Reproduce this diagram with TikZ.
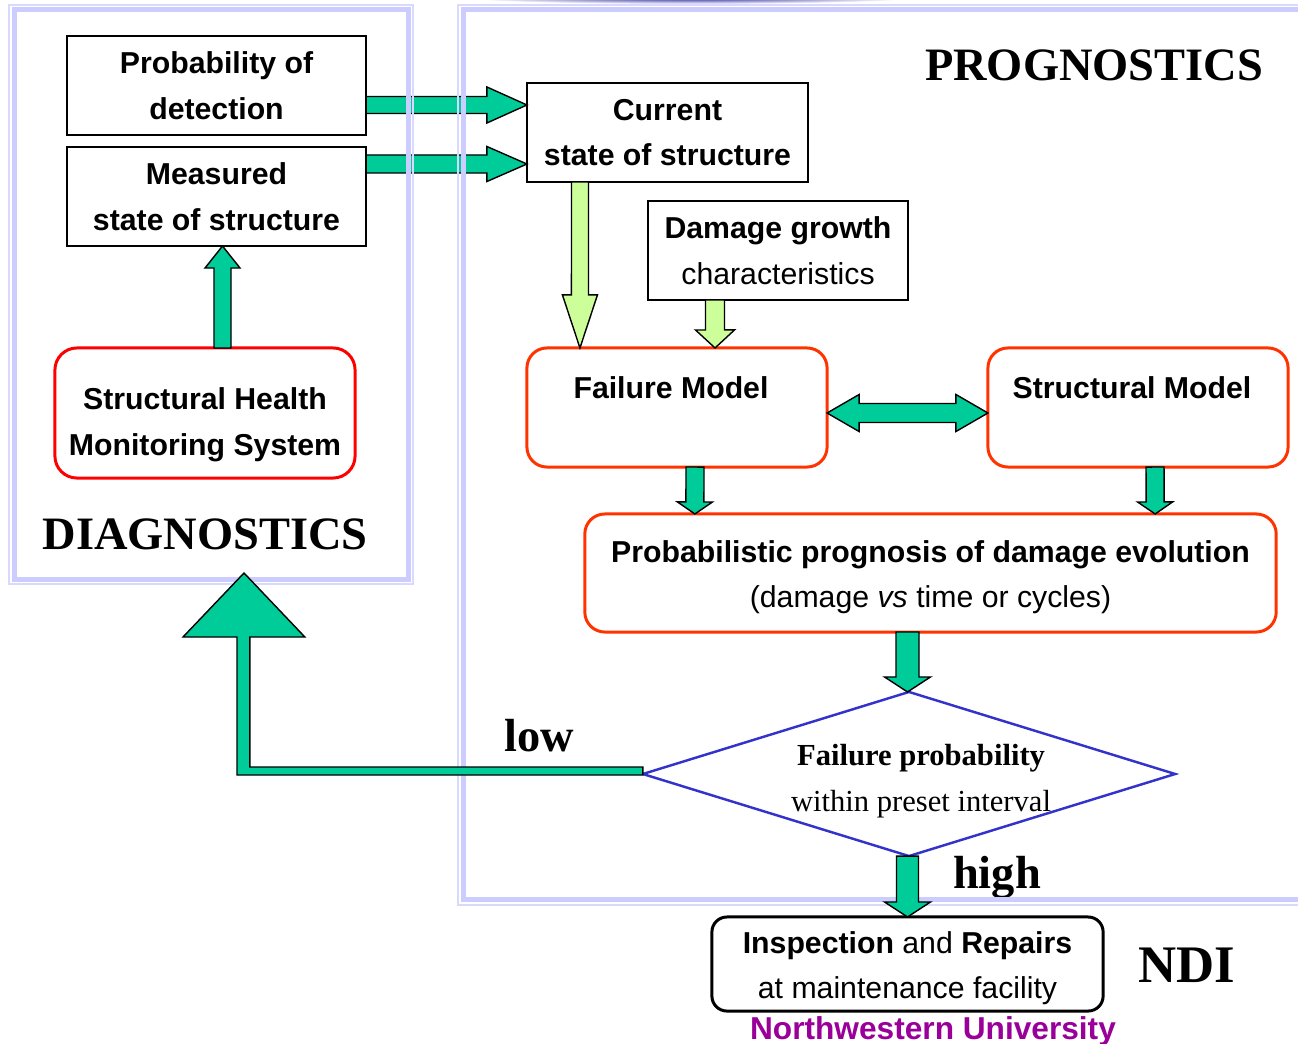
\documentclass[tikz,border=0pt]{standalone}
\usepackage{fontspec}
\setmainfont{Liberation Sans}
\newfontfamily\timesfont{Liberation Serif}
\usetikzlibrary{calc,shapes.geometric}

\definecolor{arrowgreen}{HTML}{00CC99}
\definecolor{lightgreen}{HTML}{CCFF99}
\definecolor{framelav}{HTML}{CCCCFF}
\definecolor{shmred}{HTML}{FF0000}
\definecolor{modelred}{HTML}{FF3300}
\definecolor{decisionblue}{HTML}{3333CC}
\definecolor{nwpurple}{HTML}{990099}

% block arrow: [style]{from}{to}{half shaft}{half head}{head length}
\newcommand{\blockarrow}[6][]{%
	\coordinate (ba-s) at #2;
	\coordinate (ba-e) at #3;
	\coordinate (ba-b) at ($(ba-e)!#6!(ba-s)$);
	\draw[blockarrow,#1] ($(ba-s)!#4!90:(ba-e)$) -- ($(ba-b)!#4!90:(ba-e)$) -- ($(ba-b)!#5!90:(ba-e)$) -- (ba-e) -- ($(ba-b)!#5!-90:(ba-e)$) -- ($(ba-b)!#4!-90:(ba-e)$) -- ($(ba-s)!#4!-90:(ba-e)$) -- cycle;
}
% same with a head at both ends
\newcommand{\twowayarrow}[6][]{%
	\coordinate (ba-s) at #2;
	\coordinate (ba-e) at #3;
	\coordinate (ba-bs) at ($(ba-s)!#6!(ba-e)$);
	\coordinate (ba-be) at ($(ba-e)!#6!(ba-s)$);
	\draw[blockarrow,#1] (ba-s) -- ($(ba-bs)!#5!90:(ba-e)$) -- ($(ba-bs)!#4!90:(ba-e)$) -- ($(ba-be)!#4!90:(ba-e)$) -- ($(ba-be)!#5!90:(ba-e)$) -- (ba-e) -- ($(ba-be)!#5!-90:(ba-e)$) -- ($(ba-be)!#4!-90:(ba-e)$) -- ($(ba-bs)!#4!-90:(ba-e)$) -- ($(ba-bs)!#5!-90:(ba-e)$) -- cycle;
}

\begin{document}
\begin{tikzpicture}[x=0.01cm, y=-0.01cm,
			every node/.style={
				align=center,
				inner sep=0pt,
				outer sep=0pt,
				font=\fontsize{8.6}{13}\selectfont\bfseries
			},
			squarebox/.style={draw=black, line width=0.6pt},
			shmbox/.style={draw=shmred, line width=0.85pt, rounded corners=0.22cm},
			modelbox/.style={draw=modelred, line width=0.85pt, rounded corners=0.2cm},
			decision/.style={diamond, draw=decisionblue, line width=0.7pt},
			ndibox/.style={draw=black, line width=0.85pt, rounded corners=0.15cm},
			heading/.style={font=\timesfont\bfseries\fontsize{13.2}{16}\selectfont},
			blockarrow/.style={draw=black, line width=0.4pt, fill=arrowgreen, line join=miter},
			panel/.style={draw=framelav, line width=0.05cm},
			panelrim/.style={draw=framelav!75, line width=0.015cm}]
			
			\useasboundingbox (0,0) rectangle (1298,1043);
			
			\shade[inner color=blue!55!black, outer color=white] (690,-3) ellipse (230 and 7);
			
			\node[squarebox, minimum width=2.99cm, minimum height=0.99cm] (pod) at (216.5,85.5) {Probability of\\detection};
			
			\node[squarebox, minimum width=2.99cm, minimum height=0.99cm] (msd) at (216.5,196.5) {Measured\\state of structure};
			
			\node[squarebox, minimum width=2.81cm, minimum height=0.99cm] (cur) at (667.5,132.5) {Current\\state of structure};
			
			\node[squarebox, minimum width=2.6cm, minimum height=0.99cm] (dgc) at (778,250.5) {Damage growth\\{\mdseries characteristics}};
			
			\node[shmbox, minimum width=3cm, minimum height=1.3cm] (shm) at (205,413) {\rule{0pt}{13pt}Structural Health\\Monitoring System};
			
			\node[modelbox, minimum width=3cm, minimum height=1.19cm, text depth=0.39cm] (fm) at (677,407.5) {Failure Model\hspace*{0.12cm}};
			
			\node[modelbox, minimum width=3cm, minimum height=1.19cm, text depth=0.39cm] (sm) at (1138,407.5) {Structural Model\hspace*{0.12cm}};
			
			\node[modelbox, minimum width=6.91cm, minimum height=1.18cm] (ppd) at (930.5,573) {\rule{0pt}{8.6pt}Probabilistic prognosis of damage evolution\\{\mdseries(damage \textit{vs} time or cycles)}};
			
			\node[decision, minimum width=5.32cm, minimum height=1.64cm] (fp) at (909,774) {};
			\node[font=\timesfont\bfseries\fontsize{8.7}{13}\selectfont] (fptext) at (921,781) {Failure probability\\{\mdseries within preset interval}};
			
			\node[ndibox, minimum width=3.91cm, minimum height=0.94cm] (ir) at (907.5,964) {\rule{0pt}{8.6pt}Inspection {\mdseries and} Repairs\\{\mdseries at maintenance facility}};
			
			\node[heading] (prog) at (1094,65) {PROGNOSTICS};
			\node[heading] (diag) at (205,534) {DIAGNOSTICS};
			\node[heading, font=\timesfont\bfseries\fontsize{15}{18}\selectfont] (ndi) at (1187,965.5) {NDI};
			\node[heading] (low) at (539,736) {low};
			\node[heading] (high) at (997,878) {high};
			\node[font=\fontsize{9}{11}\selectfont\bfseries, text=nwpurple] (nwu) at (933,1031) {Northwestern University};
			
			\blockarrow{([yshift=-0.195cm]pod.east)}{([yshift=0.275cm]cur.west)}{0.085cm}{0.18cm}{0.4cm}
			\blockarrow{([yshift=0.325cm]msd.east)}{([yshift=-0.315cm]cur.west)}{0.09cm}{0.175cm}{0.4cm}
			
			% panels
			\draw[panel] (14.5,10) rectangle (408,579);
			\draw[panelrim] (9,5) rectangle (413,584);
			\draw[panel] (463.5,10) rectangle (1320,899.5);
			\draw[panelrim] (458,5) rectangle (1325,905);
			
			\blockarrow{([xshift=0.175cm]shm.north)}{([xshift=0.06cm]msd.south)}{0.085cm}{0.175cm}{0.22cm}
			\blockarrow[fill=lightgreen]{([xshift=-0.875cm]cur.south)}{([xshift=-0.97cm]fm.north)}{0.085cm}{0.175cm}{0.53cm}
			\blockarrow[fill=lightgreen]{([xshift=-0.63cm]dgc.south)}{([xshift=0.38cm]fm.north)}{0.095cm}{0.195cm}{0.18cm}
			\twowayarrow{([yshift=-0.055cm]fm.east)}{([yshift=-0.055cm]sm.west)}{0.095cm}{0.185cm}{0.32cm}
			\blockarrow{([xshift=0.18cm]fm.south)}{([xshift=-2.355cm]ppd.north)}{0.09cm}{0.175cm}{0.12cm}
			\blockarrow{([xshift=0.17cm]sm.south)}{([xshift=2.245cm]ppd.north)}{0.09cm}{0.175cm}{0.12cm}
			\blockarrow{([xshift=-0.23cm]ppd.south)}{([xshift=-0.015cm]fp.north)}{0.115cm}{0.23cm}{0.15cm}
			\blockarrow{([xshift=-0.015cm]fp.south)}{(ir.north)}{0.11cm}{0.23cm}{0.15cm}
			
			% low: back to diagnostics
			\coordinate (diagtip) at (244,573);
			\draw[blockarrow] ([yshift=0.07cm]fp.west) -- ++(-393,0) -- ++(0,-130) -- ++(55,0) -- (diagtip) -- ++(-61,64) -- ++(54,0) -- ++(0,138) -- ([yshift=-0.01cm]fp.west) -- cycle;
			
		\end{tikzpicture}
\end{document}
